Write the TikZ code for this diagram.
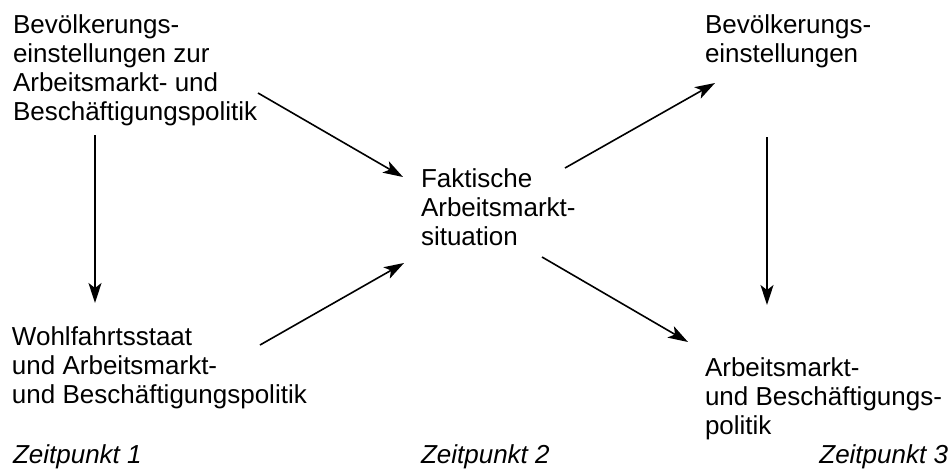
\documentclass[tikz,border=0pt]{standalone}
\usepackage{fontspec}
\setmainfont{Liberation Sans}
\usetikzlibrary{arrows.meta}
\tikzset{
  lbl/.style={inner sep=0pt, outer sep=0pt, align=left, font=\fontsize{26}{28.8}\selectfont},
  tp/.style={inner sep=0pt, outer sep=0pt, font=\fontsize{26}{28.8}\selectfont\itshape},
  arr/.style={line width=1.6pt, -{Stealth[length=20pt,width=13pt,inset=5pt]}}
}
\begin{document}
\begin{tikzpicture}[x=1pt,y=-1pt]
\useasboundingbox (0,0) rectangle (951,469);
\node[lbl, anchor=base west] (tl) at (13,120) {Bevölkerungs-\\einstellungen zur\\Arbeitsmarkt- und\\Beschäftigungspolitik};
\node[lbl, anchor=base west] (bl) at (12,403) {Wohlfahrtsstaat\\und Arbeitsmarkt-\\und Beschäftigungspolitik};
\node[lbl, anchor=base west] (c) at (421,245) {Faktische\\Arbeitsmarkt-\\situation};
\node[lbl, anchor=base west] (tr) at (705,62) {Bevölkerungs-\\einstellungen};
\node[lbl, anchor=base west] (br) at (705,434) {Arbeitsmarkt-\\und Beschäftigungs-\\politik};
\node[tp, anchor=base west] (z1) at (13,463) {Zeitpunkt 1};
\node[tp, anchor=base west] (z2) at (421,463) {Zeitpunkt 2};
\node[tp, anchor=base east] (z3) at (948,463) {Zeitpunkt 3};
\draw[arr] ([shift={(82,15)}]tl.base west) -- ([shift={(83,-100)}]bl.base west);
\draw[arr] ([shift={(245,-27)}]tl.base west) -- ([shift={(-18,-68)}]c.base west);
\draw[arr] ([shift={(248,-58)}]bl.base west) -- ([shift={(-17,18)}]c.base west);
\draw[arr] ([shift={(144,-77)}]c.base west) -- ([shift={(10,21)}]tr.base west);
\draw[arr] ([shift={(121,12)}]c.base west) -- ([shift={(-17,-92)}]br.base west);
\draw[arr] ([shift={(62,75)}]tr.base west) -- ([shift={(62,-129)}]br.base west);
\end{tikzpicture}
\end{document}
